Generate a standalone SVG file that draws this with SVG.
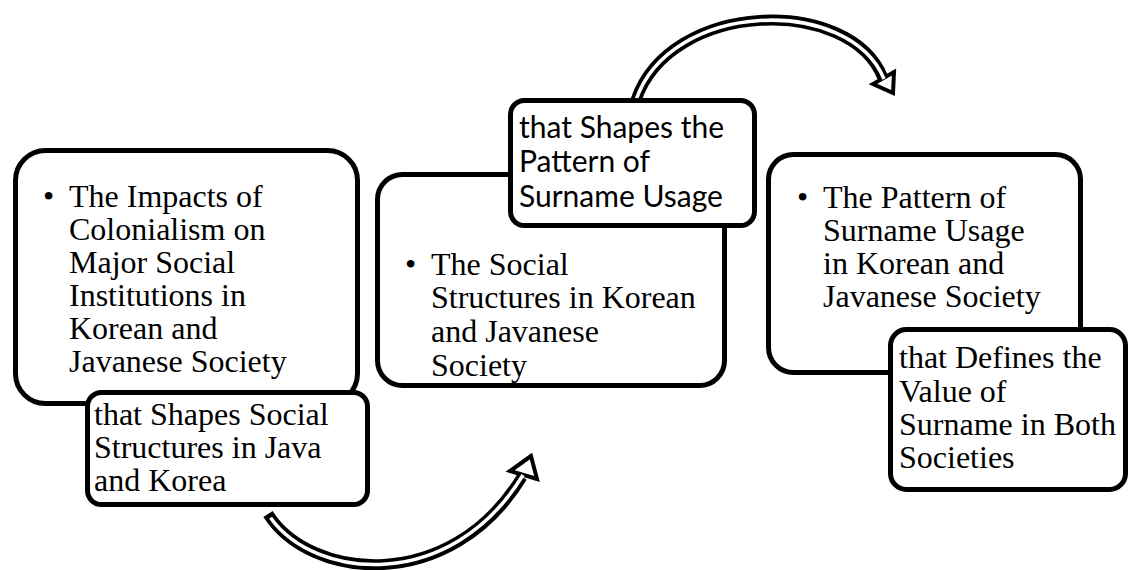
<svg xmlns="http://www.w3.org/2000/svg" width="1131" height="570" viewBox="0 0 1131 570">
<style>
.box{fill:#fff;stroke:#000;stroke-width:5}
.serif{font-family:"Liberation Serif","Times New Roman",serif;font-size:32px;fill:#000}
.sans{font-family:Lato,"Open Sans",sans-serif;font-size:30px;fill:#000}
.shaftO{fill:none;stroke:#000;stroke-width:11;stroke-linecap:butt}
.shaftI{fill:none;stroke:#fff;stroke-width:3.5;stroke-linecap:butt}
.head{fill:#fff;stroke:#000;stroke-width:4;stroke-linejoin:miter}
</style>
<rect width="1131" height="570" fill="#fff"/>
<g id="connectors">
  <g id="arrow-bottom">
    <path class="shaftO" d="M268,514 C310,580 450,595 522,477"/>
    <polygon class="head" points="531,456 510,471 537,479"/>
    <path class="shaftI" pathLength="100" stroke-dasharray="0 1.5 200" d="M268,514 C310,580 450,595 523,475"/>
  </g>
  <g id="arrow-top">
    <path class="shaftO" d="M636,100 C670,0 850,-5 883,78"/>
    <polygon class="head" points="893,93 894,72 873,84"/>
    <path class="shaftI" d="M636,100 C670,0 850,-5 884,79"/>
  </g>
</g>
<g id="node1">
  <rect class="box" x="15.5" y="150.5" width="342" height="253" rx="30"/>
  <text class="serif" x="43" y="207">•</text>
  <text class="serif">
    <tspan x="69" y="207">The Impacts of</tspan>
    <tspan x="69" y="240">Colonialism on</tspan>
    <tspan x="69" y="273">Major Social</tspan>
    <tspan x="69" y="306">Institutions in</tspan>
    <tspan x="69" y="339">Korean and</tspan>
    <tspan x="69" y="372">Javanese Society</tspan>
  </text>
</g>
<g id="node1-label">
  <rect class="box" x="87.5" y="392.5" width="280" height="112" rx="14"/>
  <text class="serif">
    <tspan x="94" y="425">that Shapes Social</tspan>
    <tspan x="94" y="458">Structures in Java</tspan>
    <tspan x="94" y="491">and Korea</tspan>
  </text>
</g>
<g id="node2">
  <rect class="box" x="377.5" y="174.5" width="347" height="211" rx="25"/>
  <text class="serif" x="405" y="275">•</text>
  <text class="serif">
    <tspan x="431" y="275">The Social</tspan>
    <tspan x="431" y="308">Structures in Korean</tspan>
    <tspan x="431" y="342">and Javanese</tspan>
    <tspan x="431" y="376">Society</tspan>
  </text>
</g>
<g id="node2-label">
  <rect class="box" x="510.5" y="100.5" width="244" height="125" rx="14"/>
  <text class="sans">
    <tspan x="519" y="138">that Shapes the</tspan>
    <tspan x="519" y="172">Pattern of</tspan>
    <tspan x="519" y="207">Surname Usage</tspan>
  </text>
</g>
<g id="node3">
  <rect class="box" x="768.5" y="154.5" width="312" height="218" rx="25"/>
  <text class="serif" x="797" y="208">•</text>
  <text class="serif">
    <tspan x="823" y="208">The Pattern of</tspan>
    <tspan x="823" y="241">Surname Usage</tspan>
    <tspan x="823" y="274">in Korean and</tspan>
    <tspan x="823" y="307">Javanese Society</tspan>
  </text>
</g>
<g id="node3-label">
  <rect class="box" x="890.5" y="329.5" width="235" height="160" rx="16"/>
  <text class="serif">
    <tspan x="899" y="368">that Defines the</tspan>
    <tspan x="899" y="402">Value of</tspan>
    <tspan x="899" y="435">Surname in Both</tspan>
    <tspan x="899" y="468">Societies</tspan>
  </text>
</g>
</svg>
